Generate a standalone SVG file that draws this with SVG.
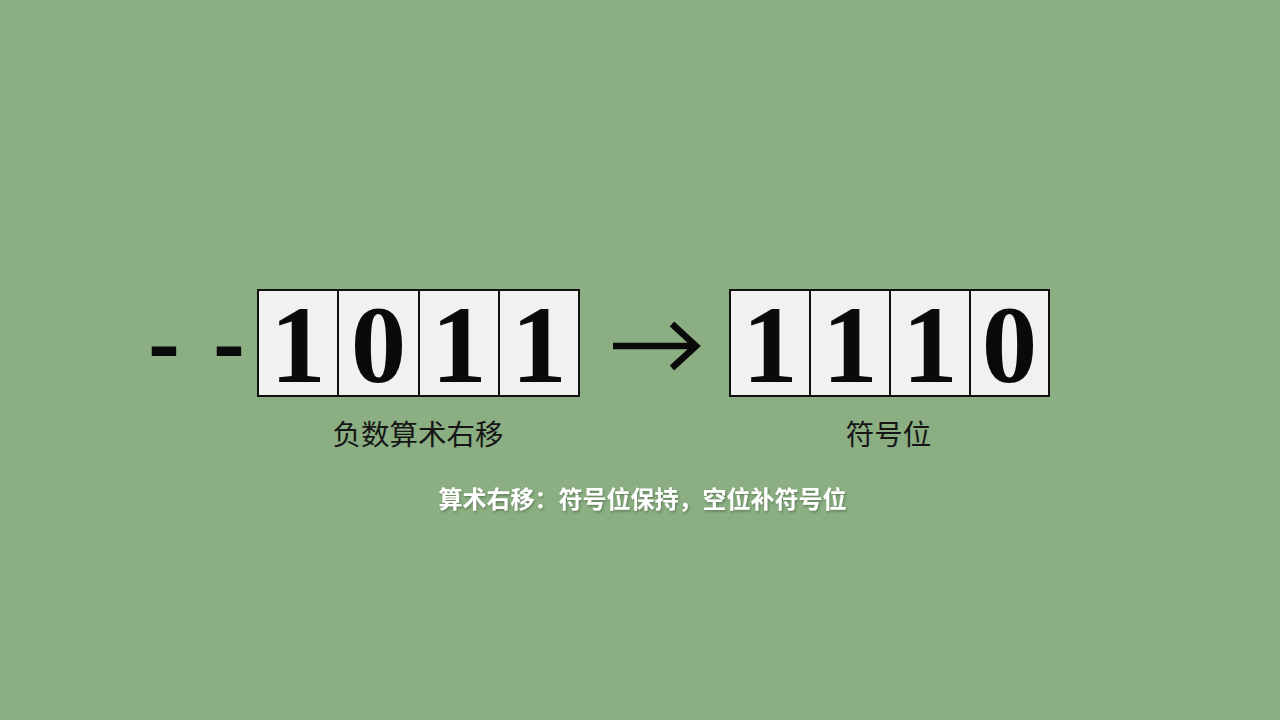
<svg xmlns="http://www.w3.org/2000/svg" width="1280" height="720" viewBox="0 0 1280 720">
<defs>
<style>
.bg{fill:#8bae82}
.cell{fill:#f1f1ef;stroke:#111;stroke-width:2}
.digit{font-family:"Liberation Serif","DejaVu Serif",serif;font-weight:bold;font-size:111px;fill:#0a0a0a;text-anchor:middle}
.dash{font-family:"Liberation Sans",Arial,sans-serif;font-weight:bold;font-size:80px;fill:#0a0a0a;text-anchor:middle}
.label{font-family:"Noto Sans CJK SC","Noto Sans",sans-serif;font-size:28.5px;fill:#161616;text-anchor:middle}
.note{font-family:"Noto Sans CJK SC","Noto Sans",sans-serif;font-size:24px;font-weight:bold;fill:#ffffff;text-anchor:middle}
.arrow{fill:none;stroke:#0a0a0a;stroke-width:6.5;stroke-linecap:butt}
</style>
<filter id="sh" x="-10%" y="-50%" width="120%" height="200%">
<feDropShadow dx="1" dy="1.5" stdDeviation="1.2" flood-color="#2d4a2a" flood-opacity="0.5"/>
</filter>
<radialGradient id="vg" cx="50%" cy="50%" r="70%">
<stop offset="0" stop-color="#8fb286"/>
<stop offset="1" stop-color="#87aa7e"/>
</radialGradient>
</defs>
<rect class="bg" x="0" y="0" width="1280" height="720" fill="url(#vg)"/>

<g id="sign-dashes">
<text class="dash" x="164" y="372" textLength="32" lengthAdjust="spacingAndGlyphs">-</text>
<text class="dash" x="229" y="372" textLength="32" lengthAdjust="spacingAndGlyphs">-</text>
</g>

<g id="input-bits">
<rect class="cell" x="258" y="290" width="80" height="106"/>
<rect class="cell" x="338" y="290" width="81" height="106"/>
<rect class="cell" x="419" y="290" width="80" height="106"/>
<rect class="cell" x="499" y="290" width="80" height="106"/>
<text class="digit" x="298" y="382">1</text>
<text class="digit" x="378.5" y="382">0</text>
<text class="digit" x="459" y="382">1</text>
<text class="digit" x="539" y="382">1</text>
</g>

<g id="output-bits">
<rect class="cell" x="730" y="290" width="80" height="106"/>
<rect class="cell" x="810" y="290" width="80" height="106"/>
<rect class="cell" x="890" y="290" width="80" height="106"/>
<rect class="cell" x="970" y="290" width="79" height="106"/>
<text class="digit" x="770" y="382">1</text>
<text class="digit" x="850" y="382">1</text>
<text class="digit" x="930" y="382">1</text>
<text class="digit" x="1009.5" y="382">0</text>
</g>

<g id="connectors">
<path class="arrow" d="M613 346 H695"/>
<path class="arrow" d="M672 324 L696 346 L672 368"/>
</g>

<g id="label-left">
<text class="label" x="418" y="445">负数算术右移</text>
</g>
<g id="label-right">
<text class="label" x="888.5" y="445">符号位</text>
</g>
<g id="note">
<text class="note" x="642.5" y="508" filter="url(#sh)">算术右移：符号位保持，空位补符号位</text>
</g>
</svg>
